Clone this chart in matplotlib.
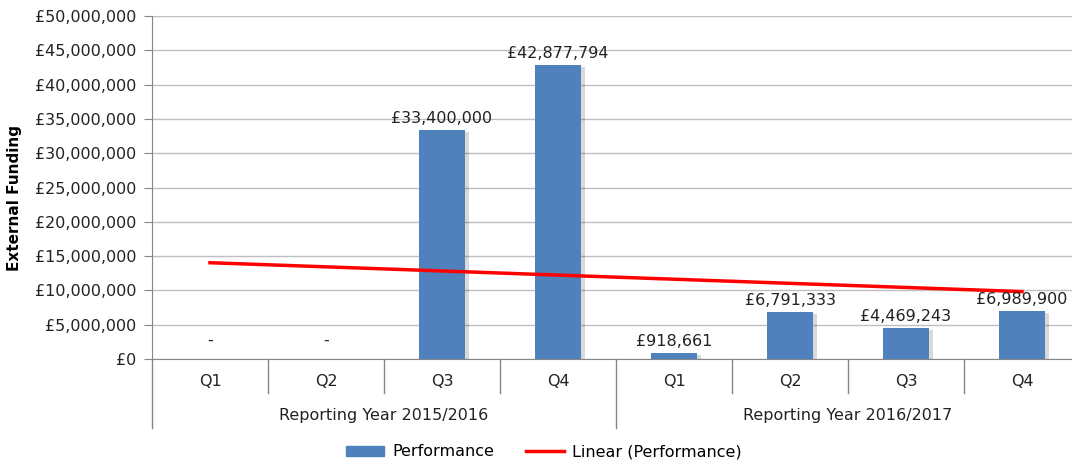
import matplotlib
matplotlib.use("Agg")
import matplotlib.pyplot as plt
import matplotlib.transforms as mtransforms
import matplotlib.patheffects as pe
from matplotlib.lines import Line2D
from matplotlib.patches import Patch
import numpy as np

quarters = ["Q1", "Q2", "Q3", "Q4", "Q1", "Q2", "Q3", "Q4"]
groups = ["Reporting Year 2015/2016", "Reporting Year 2016/2017"]
values = [0, 0, 33400000, 42877794, 918661, 6791333, 4469243, 6989900]
yticks = [0, 5e6, 10e6, 15e6, 20e6, 25e6, 30e6, 35e6, 40e6, 45e6, 50e6]

plt.rcParams['font.family'] = ['DejaVu Sans']
FS = 11.5
TXT = "#222222"
fig = plt.figure(figsize=(10.72, 4.63), dpi=100)
W, H = 1072, 463
ax = fig.add_axes([152 / W, 1 - 359 / H, 928 / W, 343 / H])

x = np.arange(1, len(values) + 1)
bars = ax.bar(x, values, width=0.4, color="#4F81BD", zorder=3,
              path_effects=[pe.SimplePatchShadow(offset=(2.5, -1.5), shadow_rgbFace="#000000", alpha=0.15), pe.Normal()])

# trendline
coef = np.polyfit(x, values, 1)
trend = np.polyval(coef, x)
ax.plot([x[0], x[-1]], [trend[0], trend[-1]], color="#FF0000", lw=2.5, zorder=4)

for xi, v in zip(x, values):
    lab = "-" if v == 0 else "£{:,}".format(v)
    ax.annotate(lab, (xi, v), xytext=(0, 3 if v else 8), textcoords="offset points",
                ha="center", va="bottom", fontsize=FS, color=TXT, zorder=5)

ax.set_xlim(0.5, 8.5)
ax.set_ylim(0, 50e6)
ax.set_yticks(yticks)
ax.set_yticklabels(["£{:,}".format(int(t)) for t in yticks], fontsize=FS, color=TXT)
ax.yaxis.grid(True, color="#BFBFBF", lw=1, zorder=0)
ax.tick_params(axis="y", length=6, color="#868686", pad=5)
ax.set_xticks([])
for s in ["top", "right"]:
    ax.spines[s].set_visible(False)
ax.spines["left"].set_color("#868686")
ax.spines["bottom"].set_color("#868686")

trans = mtransforms.blended_transform_factory(ax.transData, ax.transAxes)
for xi, q in zip(x, quarters):
    ax.text(xi, -0.067, q, transform=trans, ha="center", va="center", fontsize=FS, color=TXT)
for i, g in enumerate(groups):
    ax.text(2.5 + 4 * i, -0.166, g, transform=trans, ha="center", va="center", fontsize=FS, color=TXT)
for b in [1.5, 2.5, 3.5, 5.5, 6.5, 7.5]:
    ax.plot([b, b], [0, -0.099], transform=trans, color="#868686", lw=1, clip_on=False)
for b in [0.5, 4.5, 8.5]:
    ax.plot([b, b], [0, -0.201], transform=trans, color="#868686", lw=1, clip_on=False)

fig.text(15 / W, 1 - 198 / H, "External Funding", rotation=90, ha="center", va="center",
         fontsize=11, fontweight="bold")

handles = [Patch(color="#4F81BD", label="Performance"),
           Line2D([0], [0], color="#FF0000", lw=2.5, label="Linear (Performance)")]
fig.legend(handles=handles, loc="center", bbox_to_anchor=(544 / W, 1 - 452 / H), ncol=2,
           frameon=False, fontsize=FS, handlelength=2.4, handleheight=0.6, columnspacing=2.0,
           handletextpad=0.5)

fig.savefig("out.png", dpi=100)
